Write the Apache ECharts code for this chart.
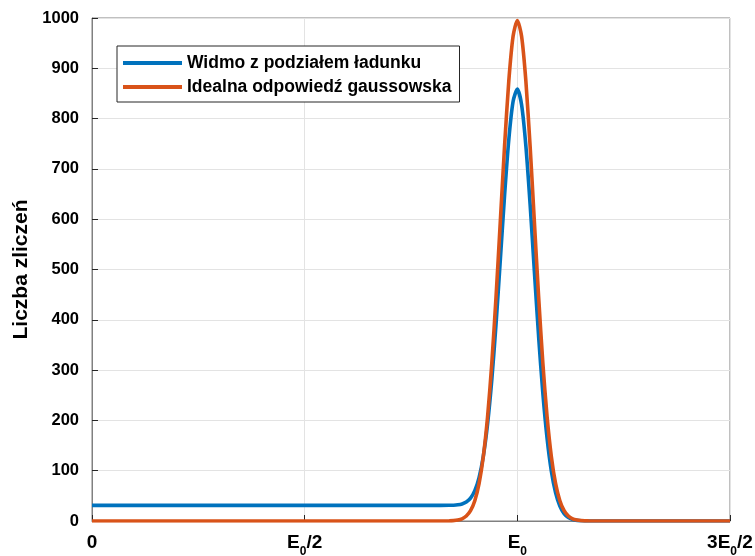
<!DOCTYPE html>
<html>
<head>
<meta charset="utf-8">
<script src="https://cdn.jsdelivr.net/npm/echarts@6/dist/echarts.min.js"></script>
<style>
html,body{margin:0;padding:0;background:#fff;}
#chart{width:755px;height:556px;}
</style>
</head>
<body>
<div id="chart"></div>
<script>
// Energy in units of E0
const xE0 = [0, 0.80, 0.84, 0.85, 0.86, 0.87, 0.88, 0.89, 0.90, 0.91, 0.92, 0.93, 0.94, 0.95, 0.96, 0.97, 0.98, 0.99, 1.00,
  1.01, 1.02, 1.03, 1.04, 1.05, 1.06, 1.07, 1.08, 1.09, 1.10, 1.11, 1.12, 1.13, 1.14, 1.15, 1.16, 1.17, 1.18, 1.5];
const blueCounts = [31.0, 31.0, 31.2, 31.4, 32.2, 33.9, 37.7, 45.4, 60.3, 86.3, 128.8, 192.7, 281.0, 392.3, 519.2, 647.5, 758.7, 833.9, 858.5,
  827.5, 746.5, 630.1, 497.4, 367.3, 253.8, 163.9, 99.0, 55.9, 29.6, 14.6, 6.7, 2.9, 1.2, 0.4, 0.2, 0.1, 0, 0];
const orangeCounts = [0, 0, 0.3, 0.7, 1.9, 4.4, 9.9, 20.6, 40.4, 74.2, 128.0, 206.9, 313.9, 446.6, 595.8, 745.7, 875.3, 963.6, 995,
  963.6, 875.3, 745.7, 595.8, 446.6, 313.9, 206.9, 128.0, 74.2, 40.4, 20.6, 9.9, 4.4, 1.9, 0.7, 0.3, 0.1, 0, 0];
const seriesNames = ['Widmo z podziałem ładunku', 'Idealna odpowiedź gaussowska'];
const xTickValues = [0, 0.5, 1, 1.5];
const xTickLabels = ['{n|0}', '{n|E}{s|0}{n|/2}', '{n|E}{s|0}', '{n|3E}{s|0}{n|/2}'];
const yAxisTitle = 'Liczba zliczeń';

const FONT = '"Liberation Sans", Arial, Helvetica, sans-serif';
const chart = echarts.init(document.getElementById('chart'), null, {renderer: 'canvas'});
const pts = (ys) => xE0.map((x, i) => [x, ys[i]]);

chart.setOption({
  animation: false,
  backgroundColor: '#ffffff',
  grid: {left: 92, right: 25, top: 18, bottom: 35, containLabel: false, outerBoundsMode: 'none',
         show: true, borderColor: '#808080', borderWidth: 1, backgroundColor: 'transparent'},
  legend: {
    orient: 'vertical', left: 117, top: 46,
    data: seriesNames,
    icon: 'rect', itemWidth: 59, itemHeight: 4, itemGap: 4,
    padding: [7, 8, 5, 6],
    borderColor: '#262626', borderWidth: 1, backgroundColor: '#fff',
    textStyle: {fontFamily: FONT, fontWeight: 'bold', fontSize: 17.5, color: '#000', lineHeight: 20}
  },
  xAxis: {
    type: 'value', min: 0, max: 1.5, interval: 0.5,
    axisLine: {show: true, onZero: false, lineStyle: {color: '#808080', width: 1}},
    axisTick: {show: true, inside: true, length: 6, lineStyle: {color: '#262626'}},
    splitLine: {show: true, lineStyle: {color: '#e3e3e3', width: 1}},
    axisLabel: {
      margin: 12, hideOverlap: false,
      formatter: (v) => { const i = xTickValues.findIndex(t => Math.abs(t - v) < 1e-9); return i >= 0 ? xTickLabels[i] : ''; },
      rich: {
        n: {fontFamily: FONT, fontWeight: 'bold', fontSize: 19, color: '#000', lineHeight: 19, verticalAlign: 'top'},
        s: {fontFamily: FONT, fontWeight: 'bold', fontSize: 12, color: '#000', lineHeight: 37, verticalAlign: 'middle'}
      }
    }
  },
  yAxis: {
    type: 'value', min: 0, max: 1000, interval: 100,
    name: yAxisTitle, nameLocation: 'middle', nameGap: 52, nameRotate: 90,
    nameTextStyle: {fontFamily: FONT, fontWeight: 'bold', fontSize: 21, color: '#000'},
    axisLine: {show: true, lineStyle: {color: '#808080', width: 1}},
    axisTick: {show: true, inside: true, length: 6, lineStyle: {color: '#262626'}},
    splitLine: {show: true, lineStyle: {color: '#e3e3e3', width: 1}},
    axisLabel: {margin: 13, fontFamily: FONT, fontWeight: 'bold', fontSize: 16.5, color: '#000', formatter: (v) => String(v)}
  },
  series: [
    {name: seriesNames[0], type: 'line', data: pts(blueCounts), showSymbol: false, smooth: 0.25,
     lineStyle: {color: '#0072BD', width: 3.6}, itemStyle: {color: '#0072BD'}, z: 3},
    {name: seriesNames[1], type: 'line', data: pts(orangeCounts), showSymbol: false, smooth: 0.25,
     lineStyle: {color: '#D95319', width: 3.6}, itemStyle: {color: '#D95319'}, z: 4}
  ]
});
</script>
</body>
</html>
